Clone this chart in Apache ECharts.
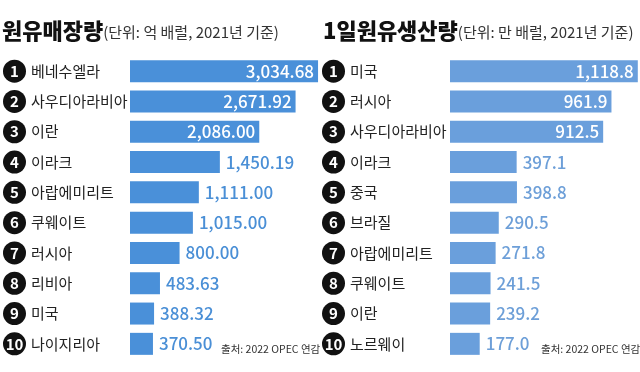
<!DOCTYPE html>
<html><head><meta charset="utf-8">
<script src="https://cdn.jsdelivr.net/npm/echarts@6/dist/echarts.min.js"></script>
<style>html,body{margin:0;padding:0;background:#fff}#c{width:640px;height:372px}</style>
</head><body><div id="c"></div>
<script>
const reserveCountries = ['베네수엘라','사우디아라비아','이란','이라크','아랍에미리트','쿠웨이트','러시아','리비아','미국','나이지리아'];
const reserveValues = [3034.68, 2671.92, 2086.00, 1450.19, 1111.00, 1015.00, 800.00, 483.63, 388.32, 370.50];
const productionCountries = ['미국','러시아','사우디아라비아','이라크','중국','브라질','아랍에미리트','쿠웨이트','이란','노르웨이'];
const productionValues = [1118.8, 961.9, 912.5, 397.1, 398.8, 290.5, 271.8, 241.5, 239.2, 177.0];
const leftTitle = '원유매장량';
const leftUnit = '(단위: 억 배럴, 2021년 기준)';
const rightTitle = '1일원유생산량';
const rightUnit = '(단위: 만 배럴, 2021년 기준)';
const sourceText = '출처: 2022 OPEC 연감';
const insideCount = 3;

const FONT = '"Noto Sans CJK KR", "Noto Sans", sans-serif';
const chart = echarts.init(document.getElementById('c'));

function fmt(v, dec) {
  return v.toLocaleString('en-US', {minimumFractionDigits: dec, maximumFractionDigits: dec});
}
function makeData(values, dec, color) {
  return values.map((v, i) => ({
    value: v,
    label: i < insideCount
      ? {position: 'insideRight', color: '#fff', distance: 4}
      : {position: 'right', color: color, distance: 6}
  }));
}
function yAxis(idx, cats) {
  return {
    type: 'category', gridIndex: idx, data: cats, inverse: true,
    axisLine: {show: false}, axisTick: {show: false},
    axisLabel: {
      margin: idx === 0 ? 127 : 128, align: 'left',
      formatter: (val, i) => '{n|' + (i + 1) + '}{t|' + val + '}',
      rich: {
        n: {width: 23, height: 23, borderRadius: 12, backgroundColor: '#111', color: '#fff',
            align: 'center', fontSize: 15, fontWeight: 'bold', fontFamily: FONT, lineHeight: 23},
        t: {fontSize: 15, color: '#222', fontFamily: FONT, padding: [0, 0, 0, 5]}
      }
    }
  };
}
function titleRich() {
  return {rich: {
    a: {fontSize: 22, fontWeight: 900, color: '#111', fontFamily: FONT},
    b: {fontSize: 15, fontWeight: 'normal', color: '#333', fontFamily: FONT, padding: [3, 0, 0, 0]}}};
}

chart.setOption({
  animation: false,
  title: [
    {left: -3, top: 15, text: '{a|' + leftTitle + '}{b|' + leftUnit + '}', textStyle: titleRich()},
    {left: 318, top: 15, text: '{a|' + rightTitle + '}{b|' + rightUnit + '}', textStyle: titleRich()},
    {left: 216, top: 339, text: sourceText,
     textStyle: {fontSize: 10.5, fontWeight: 'normal', color: '#333', fontFamily: FONT}},
    {left: 536, top: 339, text: sourceText,
     textStyle: {fontSize: 10.5, fontWeight: 'normal', color: '#333', fontFamily: FONT}}
  ],
  grid: [
    {left: 129, top: 56, width: 190, height: 303},
    {left: 450, top: 56, width: 188, height: 303}
  ],
  xAxis: [
    {type: 'value', gridIndex: 0, min: 0, max: 3050, show: false},
    {type: 'value', gridIndex: 1, min: 0, max: 1120, show: false}
  ],
  yAxis: [yAxis(0, reserveCountries), yAxis(1, productionCountries)],
  series: [
    {type: 'bar', xAxisIndex: 0, yAxisIndex: 0, barWidth: 22,
     itemStyle: {color: '#4a90d9'},
     data: makeData(reserveValues, 2, '#4a8fd6'),
     label: {show: true, fontSize: 17, fontWeight: 500, fontFamily: FONT,
             formatter: p => fmt(p.value, 2)}},
    {type: 'bar', xAxisIndex: 1, yAxisIndex: 1, barWidth: 22,
     itemStyle: {color: '#6a9fdc'},
     data: makeData(productionValues, 1, '#6d9fd8'),
     label: {show: true, fontSize: 17, fontWeight: 500, fontFamily: FONT,
             formatter: p => fmt(p.value, 1)}}
  ]
});
</script></body></html>
